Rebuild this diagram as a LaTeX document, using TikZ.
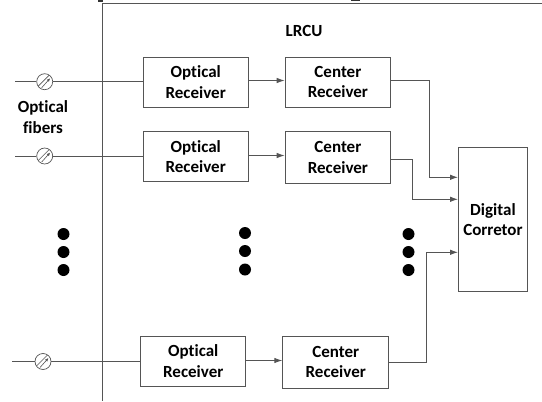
\documentclass[tikz,border=0pt]{standalone}
\usepackage{fontspec}
\setmainfont[Ligatures=NoCommon]{Carlito}
\usetikzlibrary{arrows.meta}
\definecolor{ln}{HTML}{555555}
\tikzset{x=1pt,y=-1pt,
  blockbox/.style={draw=ln,line width=0.9pt,fill=white,align=center,font=\fontsize{17}{20.5}\selectfont\bfseries,inner sep=0pt,anchor=north west},
  lbl/.style={align=center,font=\fontsize{17}{20.5}\selectfont\bfseries,inner sep=0pt},
  conn/.style={draw=ln,line width=0.9pt},
  arr/.style={conn,-{Latex[length=8pt,width=5.5pt]}},
  atten/.style={circle,draw=ln,line width=0.7pt,fill=white,minimum size=16pt,inner sep=0pt,
    path picture={
      \draw[ln,line width=0.6pt] ([xshift=-7pt,yshift=-5pt]path picture bounding box.center) -- ([xshift=5pt,yshift=7pt]path picture bounding box.center);
      \draw[ln,line width=0.6pt,-{Latex[length=3.5pt,width=3pt]}] ([xshift=-3pt,yshift=-6pt]path picture bounding box.center) -- ([xshift=5.5pt,yshift=3.5pt]path picture bounding box.center);
    }},
  dotmark/.style={circle,fill=black,minimum size=12pt,inner sep=0pt}
}
\begin{document}
\begin{tikzpicture}
\useasboundingbox (0,0) rectangle (542,402);
\coordinate (wt) at (102,3.3);
\coordinate (wb) at (102,401);
\coordinate (tr) at (542,3.3);
\draw[conn] (tr) -- (wt) -- (wb);
\fill[black!80] (98,0) rectangle (103,1.5);
\fill[black!80] (351,0) rectangle (360,1);
\node[lbl] (lrcu) at (304,31) {LRCU};
\node[lbl] (of) at (43,117) {Optical\\fibers};
% blocks
\node[blockbox,minimum width=104.5pt,minimum height=50.5pt] (o1) at (143,56.5) {Optical\\Receiver};
\node[blockbox,minimum width=104.5pt,minimum height=50pt] (o2) at (143,131) {Optical\\Receiver};
\node[blockbox,minimum width=105pt,minimum height=50pt] (o3) at (140.3,335.7) {Optical\\Receiver};
\node[blockbox,minimum width=105.5pt,minimum height=50.5pt] (c1) at (284.7,56.5) {Center\\Receiver};
\node[blockbox,minimum width=105.5pt,minimum height=52pt] (c2) at (284.7,131) {Center\\Receiver};
\node[blockbox,minimum width=106pt,minimum height=52pt] (c3) at (282.3,335.7) {Center\\Receiver};
\node[blockbox,minimum width=69pt,minimum height=144.5pt] (dc) at (458,146.7) {Digital\\Corretor};
% fibre ends
\coordinate (f1) at (15,81.7);
\coordinate (f2) at (15,156);
\coordinate (f3) at (12,361.5);
\node[atten] (a1) at (44.7,81.7) {};
\node[atten] (a2) at (44.7,156) {};
\node[atten] (a3) at (43,361.5) {};
\draw[conn] (f1) -- (a1) -- (o1.west|-a1);
\draw[conn] (f2) -- (a2) -- (o2.west|-a2);
\draw[conn] (f3) -- (a3) -- (o3.west|-a3);
\coordinate (y1) at (0,80.5);
\coordinate (y2) at (0,155.5);
\coordinate (y3) at (0,360.5);
\draw[arr] (o1.east|-y1) -- (c1.west|-y1);
\draw[arr] (o2.east|-y2) -- (c2.west|-y2);
\draw[arr] (o3.east|-y3) -- (c3.west|-y3);
% to corrector
\coordinate (d1) at (458,177.3);
\coordinate (d2) at (458,199.3);
\coordinate (d3) at (458,252.3);
\draw[arr] (c1.east|-y1) -- (429.3,80.5) -- (429.3,177.3) -- (d1);
\draw[arr] (c2.east|-0,159) -- (412,159) -- (412,199.3) -- (d2);
\draw[arr] (c3.east|-0,362.7) -- (426,362.7) -- (426,252.3) -- (d3);
% dots
\foreach \n/\x/\y in {l1/63.5/234,l2/63.5/252,l3/63.5/270,m1/245/233,m2/245/251,m3/245/269.5,r1/408.5/234,r2/408.5/252,r3/408.5/270}
  \node[dotmark] (\n) at (\x,\y) {};
\end{tikzpicture}
\end{document}
